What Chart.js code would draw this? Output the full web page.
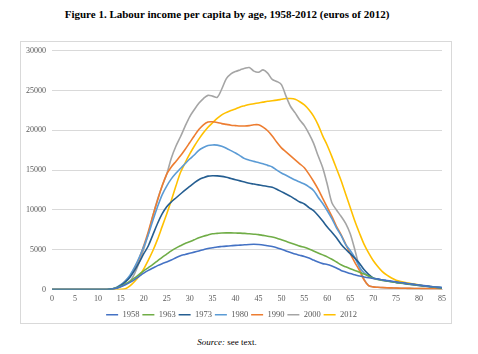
<!DOCTYPE html>
<html>
<head>
<meta charset="utf-8">
<script src="https://cdn.jsdelivr.net/npm/chart.js@4"></script>
<style>
  body { margin: 0; background: #fff; font-family: "Liberation Serif", serif; }
  #title { position: absolute; left: 0; top: 8px; width: 454px; text-align: center; font-weight: bold; font-size: 11px; color: #000; }
  #box { position: absolute; left: 20px; top: 41px; width: 432px; height: 283px; border: 1px solid #d9d9d9; box-sizing: border-box; }
  #myChart { position: absolute; left: 21px; top: 40px; }
  #source { position: absolute; left: 0; top: 337px; width: 454px; text-align: center; font-size: 9px; color: #000; }
</style>
</head>
<body>
<div id="title">Figure 1. Labour income per capita by age, 1958-2012 (euros of 2012)</div>
<div id="box"></div>
<canvas id="myChart" width="430" height="289"></canvas>
<div id="source"><i>Source:</i> see text.</div>
<script>
var ages = [];
for (var a = 0; a <= 85; a++) ages.push(String(a));

var zeros = [0, 0, 0, 0, 0, 0, 0, 0, 0, 0, 0, 0, 0];

var y1958 = zeros.concat([50, 150, 350, 600, 900, 1250, 1650, 2050, 2400, 2700, 3000, 3250, 3450, 3700, 4000, 4250, 4400, 4550, 4700, 4850, 5000, 5150, 5250, 5350, 5400, 5450, 5500, 5550, 5580, 5620, 5660, 5680, 5650, 5600, 5500, 5400, 5250, 5050, 4850, 4650, 4450, 4300, 4150, 3950, 3700, 3450, 3250, 3150, 2950, 2700, 2400, 2200, 2000, 1850, 1700, 1580, 1470, 1380, 1300, 1200, 1120, 1040, 960, 880, 800, 720, 640, 560, 490, 420, 350, 300, 250]);
var y1963 = zeros.concat([50, 180, 400, 700, 1050, 1450, 1900, 2350, 2750, 3150, 3600, 4050, 4450, 4850, 5200, 5500, 5780, 6000, 6250, 6500, 6700, 6850, 7000, 7050, 7100, 7120, 7120, 7100, 7080, 7050, 7000, 6950, 6900, 6800, 6700, 6600, 6450, 6250, 6050, 5850, 5650, 5450, 5300, 5100, 4850, 4600, 4350, 4100, 3800, 3450, 3100, 2850, 2620, 2400, 2180, 1950, 1700, 1400, 1250, 1150, 1060, 980, 900, 820, 750, 680, 610, 540, 470, 400, 330, 270, 210]);
var y1973 = zeros.concat([60, 200, 500, 950, 1550, 2400, 3400, 4500, 5500, 6900, 8300, 9500, 10400, 11000, 11500, 12000, 12500, 12950, 13400, 13800, 14050, 14250, 14300, 14280, 14220, 14100, 13950, 13800, 13650, 13500, 13350, 13250, 13150, 13050, 12950, 12850, 12600, 12300, 12000, 11700, 11350, 11000, 10750, 10300, 9900, 9300, 8600, 7850, 7200, 6500, 5700, 5050, 4500, 3950, 3300, 2500, 1900, 1460, 1320, 1200, 1100, 1000, 900, 820, 740, 660, 590, 520, 450, 390, 320, 260, 210]);
var y1980 = zeros.concat([60, 250, 600, 1100, 1800, 2800, 4000, 5400, 6900, 8700, 10400, 11900, 13000, 13900, 14600, 15200, 15800, 16400, 16900, 17500, 17850, 18100, 18170, 18150, 18000, 17750, 17450, 17150, 16800, 16450, 16250, 16100, 15950, 15800, 15600, 15400, 15000, 14650, 14350, 14050, 13750, 13500, 13250, 12900, 12450, 11600, 10800, 9900, 8900, 7750, 6800, 5650, 4900, 4000, 2850, 2100, 1700, 1420, 1300, 1180, 1080, 980, 880, 800, 720, 640, 570, 500, 440, 380, 320, 260, 210]);
var y1990 = zeros.concat([50, 200, 550, 1050, 1700, 2700, 3900, 5500, 7300, 9300, 11200, 13000, 14500, 15400, 16100, 16800, 17600, 18450, 19300, 20100, 20700, 21050, 21080, 21000, 20850, 20750, 20650, 20600, 20550, 20550, 20600, 20700, 20700, 20400, 19950, 19300, 18500, 17800, 17300, 16800, 16300, 15800, 15300, 14500, 13600, 12600, 11450, 10330, 9200, 7950, 6900, 5700, 4500, 3400, 2400, 1200, 500, 330, 280, 250, 220, 200, 180, 160, 150, 140, 130, 120, 110, 100, 90, 85, 80]);
var y2000 = zeros.concat([40, 150, 400, 700, 1000, 2000, 3400, 5100, 7000, 9300, 11300, 13000, 14500, 16500, 18000, 19200, 20500, 21700, 22600, 23400, 24000, 24400, 24300, 24150, 25200, 26500, 27100, 27400, 27600, 27800, 27900, 27450, 27300, 27600, 27200, 26400, 26150, 25750, 24300, 23000, 22200, 21300, 20600, 19600, 18400, 16800, 15300, 13200, 10900, 10000, 9200, 8300, 7000, 5000, 2800, 1300, 500, 330, 280, 240, 210, 190, 170, 160, 150, 140, 135, 130, 125, 120, 120, 120, 120]);
var y2012 = zeros.concat([0, 0, 20, 100, 450, 1000, 1700, 2600, 3700, 4900, 6300, 7900, 9500, 11200, 13000, 14700, 15900, 17000, 18000, 18900, 19700, 20400, 20960, 21500, 21950, 22250, 22500, 22700, 22950, 23100, 23250, 23350, 23450, 23550, 23650, 23720, 23800, 23900, 24000, 24000, 23900, 23600, 23200, 22600, 21800, 20700, 19300, 18100, 16700, 15200, 13700, 12000, 10300, 8600, 7100, 5700, 4600, 3650, 2900, 2250, 1800, 1450, 1170, 1000, 880, 770, 680, 560, 460, 380, 310, 250, 210]);

var seriesNames = ["1958", "1963", "1973", "1980", "1990", "2000", "2012"];
var seriesData = [y1958, y1963, y1973, y1980, y1990, y2000, y2012];
var colors = ["#4472C4", "#70AD47", "#255E91", "#5B9BD5", "#ED7D31", "#A5A5A5", "#FFC000"];

var ctx = document.getElementById("myChart").getContext("2d");

var datasets = seriesNames.map(function (name, i) {
  return {
    label: name,
    data: seriesData[i],
    borderColor: colors[i],
    backgroundColor: colors[i],
    borderWidth: 1.6,
    fill: false,
    tension: 0.3,
    pointRadius: 0,
    pointHoverRadius: 0,
  };
});

var myChart = new Chart(ctx, {
  type: "line",
  data: { labels: ages, datasets: datasets },
  options: {
    responsive: false,
    animation: false,
    layout: { padding: { left: 0, right: 9, top: 2, bottom: 0 } },
    plugins: {
      legend: {
        display: true,
        position: "bottom",
        labels: {
          usePointStyle: true,
          pointStyle: "line",
          pointStyleWidth: 12,
          boxHeight: 8,
          padding: 3,
          color: "#595959",
          font: { family: "Liberation Serif", size: 8.5, lineHeight: 1 },
        },
      },
      tooltip: { enabled: false },
    },
    scales: {
      y: {
        min: 0,
        max: 30000,
        ticks: {
          stepSize: 5000,
          padding: 6,
          color: "#595959",
          font: { family: "Liberation Serif", size: 8 },
          callback: function (value) { return String(value); },
        },
        grid: { color: "#d9d9d9", drawTicks: false },
        border: { display: false },
        afterFit: function (scale) { scale.width = 31; },
      },
      x: {
        offset: false,
        ticks: {
          autoSkip: false,
          maxRotation: 0,
          padding: 5,
          color: "#595959",
          font: { family: "Liberation Serif", size: 8, lineHeight: 1 },
          callback: function (value, index) {
            return index % 5 === 0 ? ages[index] : "";
          },
        },
        grid: { display: false, drawTicks: false },
        border: { color: "#d9d9d9" },
      },
    },
  },
});
</script>
</body>
</html>
